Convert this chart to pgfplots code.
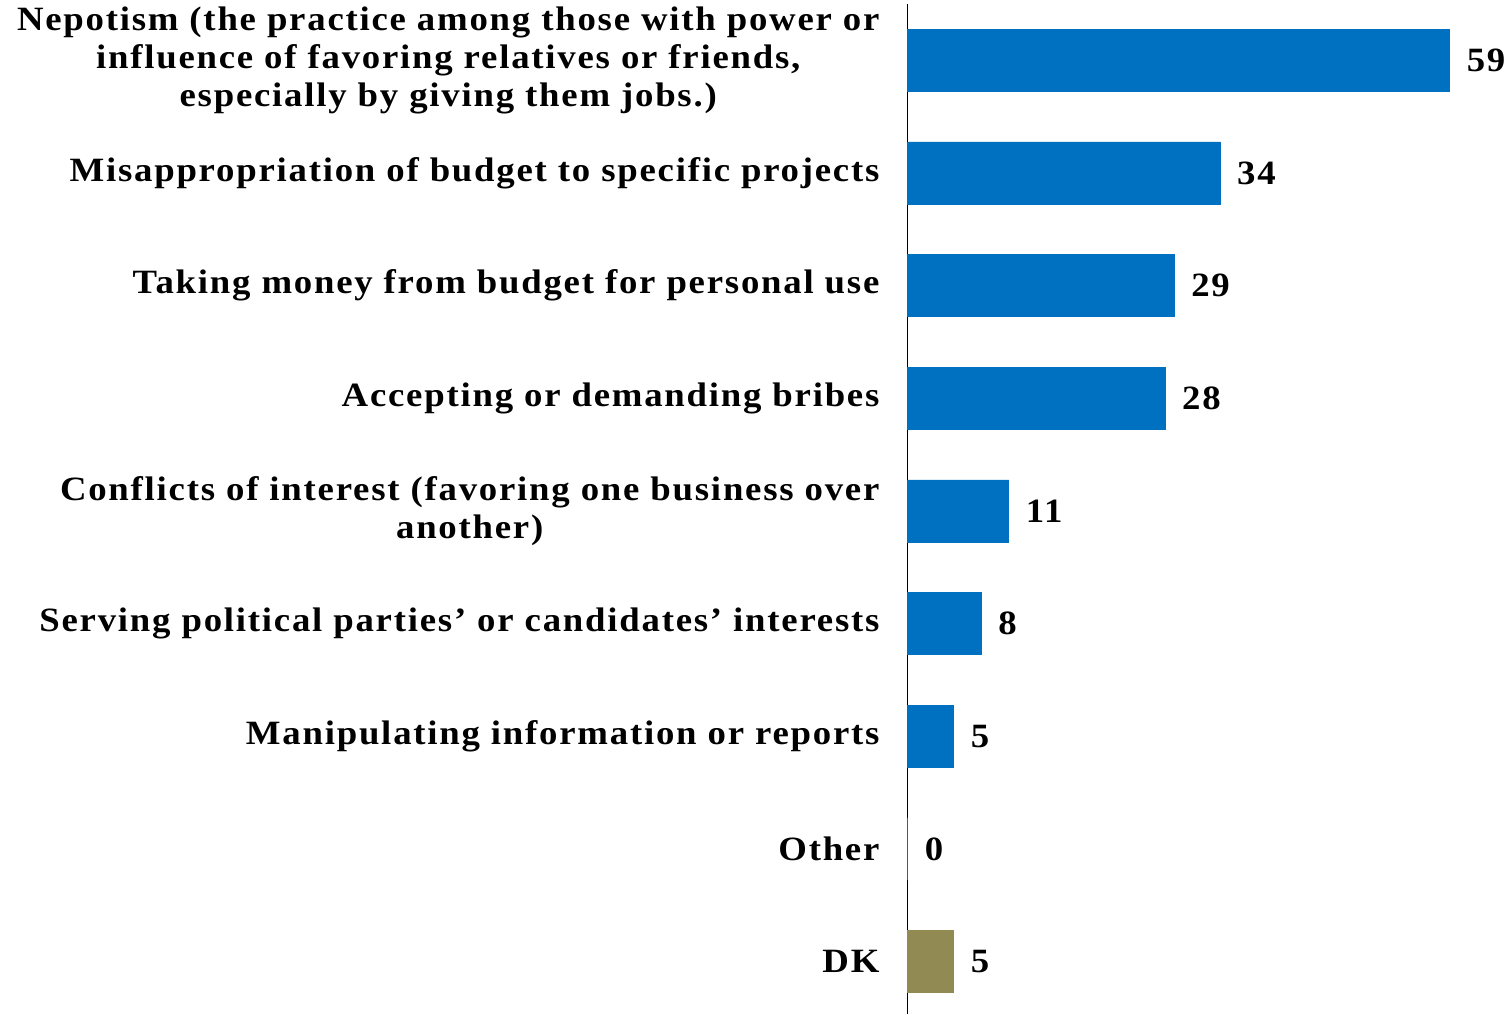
\documentclass[border=0pt]{standalone}
\usepackage{fontspec}
\setmainfont{Liberation Serif}[FakeStretch=1.08, LetterSpace=5.2]
\usepackage{pgfplots}
\pgfplotsset{compat=1.18}
\definecolor{barblue}{HTML}{0070C0}
\definecolor{dkolive}{HTML}{918A52}
\begin{document}
\begin{tikzpicture}
\begin{axis}[
  scale only axis,
  width=298pt, height=504pt,
  xbar, bar width=31pt, bar shift=0pt,
  xmin=0, xmax=65,
  ymin=-0.5, ymax=8.46,
  y dir=reverse,
  axis x line=none,
  axis y line*=left,
  axis line style={-, black, line width=0.6pt},
  ytick={0,...,8},
  major tick length=0pt,
  yticklabels={
    {Nepotism (the practice among those with power or\\influence of favoring relatives or friends,\\especially by giving them jobs.)},
    {Misappropriation of budget to specific projects},
    {Taking money from budget for personal use},
    {Accepting or demanding bribes},
    {Conflicts of interest (favoring one business over\\another)},
    {Serving political parties' or candidates' interests},
    {Manipulating information or reports},
    {Other},
    {DK}},
  yticklabel style={align=center, font=\fontsize{17}{19}\selectfont\bfseries, inner xsep=8.5pt, xshift=-5.5pt},
  nodes near coords,
  nodes near coords style={font=\fontsize{17}{19}\selectfont\bfseries, anchor=west, xshift=5pt, black},
  point meta=explicit symbolic,
  clip=false,
]
\addplot[fill=barblue, draw=barblue] coordinates {
  (59,0) [59] (34,1) [34] (29,2) [29] (28,3) [28] (11,4) [11] (8,5) [8] (5,6) [5] (0,7) [0]};
\addplot[fill=dkolive, draw=dkolive] coordinates {(5,8) [5]};
\end{axis}
\end{tikzpicture}
\end{document}
